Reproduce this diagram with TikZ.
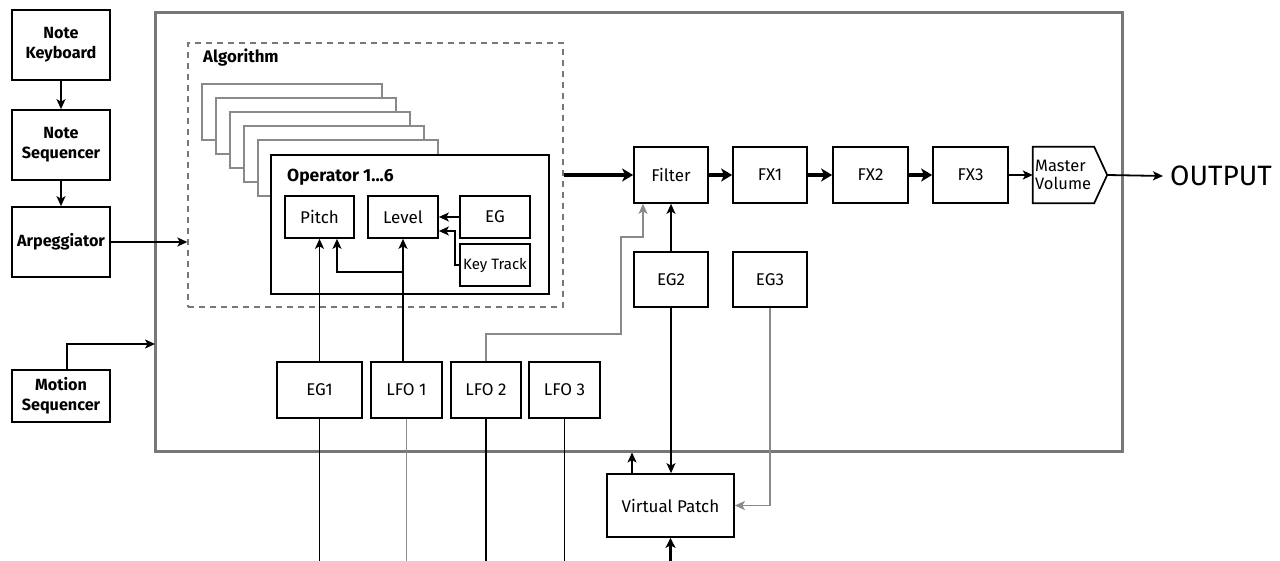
\documentclass[tikz,border=0pt]{standalone}
\usepackage{fontspec}
\setmainfont{Fira Sans}
\usetikzlibrary{arrows.meta,calc}
\definecolor{frame}{HTML}{777777}
\definecolor{gline}{HTML}{8A8A8A}
\begin{document}
\begin{tikzpicture}[x=1pt,y=-1pt,
  blk/.style={draw=black,line width=1.7pt,fill=white,inner sep=0pt,align=center,font=\fontsize{17}{20}\selectfont},
  bblk/.style={blk,font=\fontsize{16.2}{20}\selectfont\bfseries},
  a/.style={-{Stealth[length=10pt,width=9pt,inset=2.5pt]},line width=1.5pt},
  ta/.style={-{Stealth[length=11pt,width=13pt,inset=3pt]},line width=4.5pt},
  gl/.style={draw=gline},
  gbox/.style={draw=gline,line width=2.5pt,fill=white}
]
\useasboundingbox (0,0) rectangle (1280,561);

% main frame and algorithm area
\node[draw=frame,line width=3pt,minimum width=967pt,minimum height=438pt,inner sep=0pt] (main) at (638.5,232) {};
\node[draw=frame,line width=1.3pt,dash pattern=on 6pt off 5pt,minimum width=375pt,minimum height=264pt,inner sep=0pt] (alg) at (375.5,175) {};
\node[anchor=west,inner sep=0pt,font=\fontsize{16.8}{19}\selectfont\bfseries] (algl) at (203,58) {Algorithm};

% stacked operators
\foreach \i in {0,...,4}{
  \draw[gbox] (202+14*\i,84+14*\i) rectangle ++(180,56);
}
\node[draw=black,line width=2.7pt,fill=white,minimum width=278pt,minimum height=139pt,inner sep=0pt] (op) at (410,224.5) {};
\node[anchor=west,inner sep=0pt,font=\fontsize{17.5}{20}\selectfont\bfseries] (opl) at (287,177) {Operator 1...6};
\node[blk,minimum width=69pt,minimum height=42pt] (pitch) at (319.5,217) {Pitch};
\node[blk,minimum width=70pt,minimum height=42pt] (level) at (403,217) {Level};
\node[blk,minimum width=70pt,minimum height=42pt] (eg) at (495,217) {EG};
\node[blk,minimum width=70pt,minimum height=42pt,font=\fontsize{15}{17}\selectfont] (kt) at (495,265) {Key Track};

% left column
\node[bblk,minimum width=98pt,minimum height=70pt] (nk) at (61,45) {Note\\Keyboard};
\node[bblk,minimum width=98pt,minimum height=70pt] (ns) at (61,145) {Note\\Sequencer};
\node[bblk,minimum width=98pt,minimum height=70pt] (arp) at (61,242) {Arpeggiator};
\node[bblk,minimum width=98pt,minimum height=52pt] (ms) at (61,396) {Motion\\Sequencer};

% modulators
\node[blk,minimum width=85pt,minimum height=56pt] (eg1) at (319.5,390) {EG1};
\node[blk,minimum width=71pt,minimum height=56pt] (lfo1) at (406.5,390) {LFO 1};
\node[blk,minimum width=70pt,minimum height=56pt] (lfo2) at (486,390) {LFO 2};
\node[blk,minimum width=71pt,minimum height=56pt] (lfo3) at (564.5,390) {LFO 3};

% signal chain
\node[blk,minimum width=74pt,minimum height=56pt] (filter) at (671,175) {Filter};
\node[blk,minimum width=74pt,minimum height=56pt] (fx1) at (770,175) {FX1};
\node[blk,minimum width=75pt,minimum height=56pt] (fx2) at (870.5,175) {FX2};
\node[blk,minimum width=75pt,minimum height=56pt] (fx3) at (970.5,175) {FX3};
\node[inner sep=0pt,minimum width=74pt,minimum height=56pt] (mv) at (1070,175) {};
\draw[line width=1.7pt,fill=white] (mv.north west) -- ([xshift=-13pt]mv.north east) -- (mv.east) -- ([xshift=-13pt]mv.south east) -- (mv.south west) -- cycle;
\node[anchor=west,inner sep=0pt,align=left,font=\fontsize{16.5}{18}\selectfont] (mvt) at (1035,175) {Master\\Volume};
\node[anchor=west,inner sep=0pt,font=\fontsize{28}{32}\selectfont] (out) at (1170,176) {OUTPUT};

\node[blk,minimum width=74pt,minimum height=55pt] (eg2) at (671,279.5) {EG2};
\node[blk,minimum width=74pt,minimum height=55pt] (eg3) at (770,279.5) {EG3};
\node[blk,minimum width=127pt,minimum height=63pt] (vp) at (670.5,505.5) {Virtual Patch};

% coordinates
\coordinate (bot) at (0,565);
\coordinate (msin) at (155,344);
\coordinate (br) at (403,272);
\coordinate (ktc) at (455,231);
\coordinate (lf2a) at (621,334);
\coordinate (lf2b) at (643,237);

% left column connectors
\draw[a] (nk) -- (ns);
\draw[a] (ns) -- (arp);
\draw[a] (arp.east) -- (arp.east -| alg.west);
\draw[a] ([xshift=6pt]ms.north) |- (msin);

% operator internals
\draw[a] (eg.west) -- (level.east);
\draw[a] (kt.west) -| (ktc) -- (ktc -| level.east);
\draw[a] (eg1.north) -- (eg1.north |- pitch.south);
\draw[a] (level.south |- lfo1.north) -- (level.south);
\draw[a] (br) -| ([xshift=17.5pt]pitch.south);

% signal chain connectors
\draw[ta] (alg.east) -- (filter.west);
\draw[ta] (filter) -- (fx1);
\draw[ta] (fx1) -- (fx2);
\draw[ta] (fx2) -- (fx3);
\draw[a,line width=2pt] (fx3) -- (mv.west);
\draw[a,line width=1.8pt] (mv.east) -- ([xshift=-7pt]out.west);

% modulation connectors
\draw[a] (eg2) -- (filter);
\draw[a,gl] (lfo2.north) |- (lf2a) |- (lf2b) -- (lf2b |- filter.south);
\draw[a] (eg2.south) -- (eg2.south |- vp.north);
\draw[a,gl] (eg3.south) |- (vp.east);
\draw[a] ([xshift=-38.5pt]vp.north) -- ([xshift=-38.5pt]vp.north |- main.south);
\draw[-{Stealth[length=10pt,width=10pt,inset=2.5pt]},line width=2.4pt] (vp.south |- bot) -- (vp.south);

% lines leaving the bottom
\draw[line width=1.5pt] (eg1.south) -- (eg1.south |- bot);
\draw[line width=1.5pt,gl] (lfo1.south) -- (lfo1.south |- bot);
\draw[line width=1.5pt] (lfo2.south) -- (lfo2.south |- bot);
\draw[line width=1.5pt] (lfo3.south) -- (lfo3.south |- bot);
\end{tikzpicture}
\end{document}
